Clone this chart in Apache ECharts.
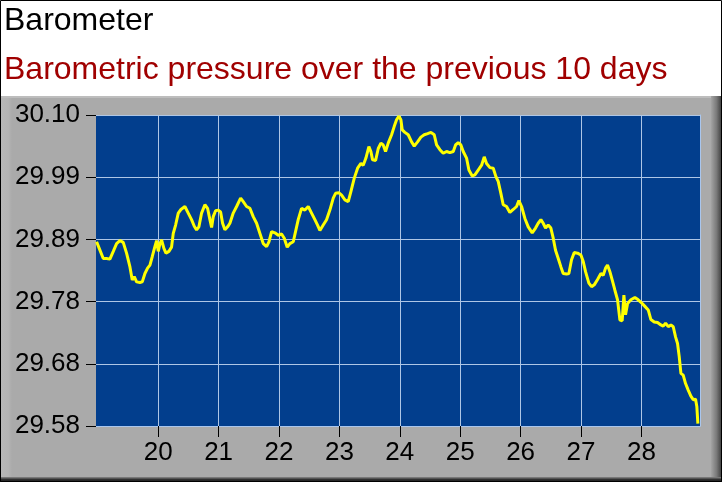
<!DOCTYPE html>
<html>
<head>
<meta charset="utf-8">
<script src="https://cdn.jsdelivr.net/npm/echarts@6/dist/echarts.min.js"></script>
<style>
html,body{margin:0;padding:0;background:#fff;}
#chart{width:722px;height:482px;}
</style>
</head>
<body>
<div id="chart"></div>
<script>
// ---- data ----
const titleText = 'Barometer';
const subtitleText = 'Barometric pressure over the previous 10 days';

const xTickValues = [20, 21, 22, 23, 24, 25, 26, 27, 28];
const yTickValues = [29.58, 29.684, 29.788, 29.892, 29.996, 30.10];
const yTickLabels = ['29.58', '29.68', '29.78', '29.89', '29.99', '30.10'];

const days = [
  18.980, 19.035, 19.090, 19.145, 19.200, 19.256, 19.311, 19.366, 19.421, 19.476,
  19.532, 19.570, 19.603, 19.642, 19.697, 19.736, 19.780, 19.824, 19.863, 19.901,
  19.945, 19.973, 20.001, 20.028, 20.056, 20.094, 20.128, 20.177, 20.221, 20.249,
  20.288, 20.332, 20.376, 20.442, 20.497, 20.552, 20.597, 20.635, 20.674, 20.718,
  20.773, 20.817, 20.856, 20.884, 20.911, 20.950, 20.994, 21.033, 21.066, 21.104,
  21.149, 21.187, 21.242, 21.298, 21.364, 21.408, 21.463, 21.518, 21.573, 21.629,
  21.684, 21.739, 21.794, 21.833, 21.877, 21.932, 21.987, 22.043, 22.087, 22.136,
  22.180, 22.236, 22.318, 22.373, 22.429, 22.484, 22.539, 22.594, 22.638, 22.677,
  22.732, 22.787, 22.842, 22.898, 22.936, 22.992, 23.036, 23.091, 23.146, 23.190,
  23.245, 23.301, 23.356, 23.394, 23.439, 23.488, 23.521, 23.549, 23.599, 23.643,
  23.687, 23.725, 23.764, 23.808, 23.864, 23.908, 23.946, 23.985, 24.018, 24.040,
  24.084, 24.139, 24.195, 24.239, 24.294, 24.349, 24.404, 24.460, 24.515, 24.570,
  24.609, 24.664, 24.719, 24.774, 24.829, 24.885, 24.923, 24.967, 25.011, 25.050,
  25.105, 25.144, 25.199, 25.243, 25.298, 25.354, 25.398, 25.436, 25.492, 25.547,
  25.591, 25.629, 25.673, 25.712, 25.767, 25.822, 25.878, 25.933, 25.971, 26.016,
  26.071, 26.126, 26.192, 26.247, 26.291, 26.336, 26.374, 26.413, 26.457, 26.501,
  26.540, 26.578, 26.623, 26.667, 26.705, 26.761, 26.799, 26.843, 26.888, 26.943,
  26.998, 27.037, 27.075, 27.130, 27.175, 27.219, 27.274, 27.329, 27.368, 27.406,
  27.439, 27.478, 27.517, 27.561, 27.605, 27.644, 27.682, 27.710, 27.737, 27.771,
  27.826, 27.892, 27.947, 28.002, 28.058, 28.113, 28.157, 28.212, 28.267, 28.322,
  28.361, 28.400, 28.444, 28.488, 28.527, 28.565, 28.598, 28.626, 28.654, 28.692,
  28.731, 28.775, 28.819, 28.858, 28.896, 28.918, 28.935
];

const pressure = [
  29.888, 29.874, 29.860, 29.860, 29.859, 29.872, 29.885, 29.890, 29.887, 29.869,
  29.846, 29.824, 29.830, 29.821, 29.820, 29.821, 29.835, 29.844, 29.849, 29.863,
  29.880, 29.890, 29.872, 29.885, 29.891, 29.877, 29.869, 29.872, 29.879, 29.902,
  29.916, 29.936, 29.942, 29.947, 29.936, 29.925, 29.914, 29.908, 29.913, 29.936,
  29.950, 29.944, 29.925, 29.912, 29.930, 29.940, 29.941, 29.938, 29.919, 29.908,
  29.913, 29.919, 29.936, 29.947, 29.961, 29.955, 29.947, 29.944, 29.930, 29.919,
  29.902, 29.885, 29.880, 29.888, 29.905, 29.903, 29.899, 29.901, 29.894, 29.879,
  29.885, 29.888, 29.925, 29.944, 29.941, 29.947, 29.936, 29.925, 29.916, 29.907,
  29.916, 29.925, 29.941, 29.961, 29.969, 29.970, 29.966, 29.958, 29.955, 29.972,
  29.994, 30.011, 30.019, 30.016, 30.028, 30.047, 30.039, 30.025, 30.024, 30.044,
  30.053, 30.050, 30.039, 30.053, 30.067, 30.081, 30.092, 30.098, 30.092, 30.075,
  30.071, 30.067, 30.055, 30.048, 30.055, 30.063, 30.067, 30.069, 30.071, 30.067,
  30.050, 30.042, 30.036, 30.039, 30.037, 30.039, 30.050, 30.054, 30.050, 30.039,
  30.028, 30.008, 29.998, 30.000, 30.008, 30.016, 30.030, 30.019, 30.012, 30.011,
  29.997, 29.989, 29.969, 29.950, 29.947, 29.937, 29.942, 29.947, 29.957, 29.947,
  29.927, 29.913, 29.903, 29.911, 29.919, 29.925, 29.919, 29.911, 29.916, 29.911,
  29.894, 29.874, 29.860, 29.846, 29.835, 29.834, 29.835, 29.858, 29.870, 29.869,
  29.866, 29.855, 29.838, 29.819, 29.813, 29.816, 29.825, 29.835, 29.832, 29.844,
  29.849, 29.838, 29.824, 29.807, 29.791, 29.757, 29.756, 29.799, 29.766, 29.785,
  29.791, 29.795, 29.791, 29.786, 29.780, 29.774, 29.758, 29.754, 29.753, 29.749,
  29.747, 29.752, 29.746, 29.749, 29.746, 29.729, 29.718, 29.696, 29.668, 29.665,
  29.651, 29.640, 29.630, 29.624, 29.625, 29.612, 29.584
];

const seriesData = days.map((d, i) => [d, pressure[i]]);

const chart = echarts.init(document.getElementById('chart'), null, {renderer: 'canvas'});

const W = 722, H = 482, PANEL_TOP = 96;

const option = {
  animation: false,
  backgroundColor: '#ffffff',
  graphic: [
    {type: 'rect', z: -20, silent: true,
     shape: {x: 0, y: PANEL_TOP, width: W, height: H - PANEL_TOP},
     style: {fill: '#aaaaaa'}},
    {type: 'rect', z: -19, silent: true,
     shape: {x: 0, y: PANEL_TOP, width: 12, height: H - PANEL_TOP},
     style: {fill: new echarts.graphic.LinearGradient(0, 0, 1, 0, [
       {offset: 0, color: '#b8b8b8'}, {offset: 0.7, color: '#b4b4b4'}, {offset: 1, color: '#aaaaaa'}])}},
    {type: 'rect', z: -19, silent: true,
     shape: {x: 0, y: PANEL_TOP, width: W, height: 2},
     style: {fill: '#bdbdbd'}},
    {type: 'rect', z: -18, silent: true,
     shape: {x: W - 11, y: PANEL_TOP, width: 11, height: H - PANEL_TOP},
     style: {fill: new echarts.graphic.LinearGradient(0, 0, 1, 0, [
       {offset: 0, color: '#a4a4a4'}, {offset: 0.5, color: '#7a7a7a'}, {offset: 1, color: '#3a3a3a'}])}},
    {type: 'rect', z: -18, silent: true,
     shape: {x: 0, y: H - 5, width: W, height: 5},
     style: {fill: new echarts.graphic.LinearGradient(0, 0, 0, 1, [
       {offset: 0, color: '#8a8a8a'}, {offset: 0.5, color: '#303030'}, {offset: 1, color: '#1a1a1a'}])}},
    {type: 'rect', z: -17, silent: true,
     shape: {x: 0.5, y: 0.5, width: W - 1, height: H - 1},
     style: {fill: 'none', stroke: '#000', lineWidth: 1}},
    {type: 'text', z: 10, silent: true, x: 4, y: 21,
     style: {text: titleText, font: '32px "Liberation Sans", Arial, sans-serif',
             fill: '#000000', verticalAlign: 'middle', align: 'left'}},
    {type: 'text', z: 10, silent: true, x: 4, y: 70,
     style: {text: subtitleText, font: '32px "Liberation Sans", Arial, sans-serif',
             fill: '#a00000', verticalAlign: 'middle', align: 'left'}}
  ],
  grid: {
    left: 96, top: 115, right: 22, bottom: 56,
    show: true, backgroundColor: '#023e8d', borderWidth: 0, containLabel: false
  },
  xAxis: {
    type: 'value', min: 18.97, max: 28.97,
    axisLine: {show: true, lineStyle: {color: '#a9c6ee', width: 1}},
    axisTick: {show: true, customValues: xTickValues, length: 11, lineStyle: {color: '#000', width: 1}},
    axisLabel: {show: true, customValues: xTickValues, margin: 14,
      fontFamily: '"Liberation Sans", Arial, sans-serif', fontSize: 26, color: '#000',
      formatter: v => String(Math.round(v))},
    splitLine: {show: true, lineStyle: {color: '#aec6e6', width: 1}}
  },
  yAxis: [{
    type: 'value', min: 29.58, max: 30.10, position: 'left',
    axisLine: {show: false},
    axisTick: {show: true, customValues: yTickValues, length: 10, lineStyle: {color: '#000', width: 1}},
    axisLabel: {show: true, customValues: yTickValues, margin: 16,
      fontFamily: '"Liberation Sans", Arial, sans-serif', fontSize: 26, color: '#000',
      formatter: v => {
        let best = 0;
        for (let i = 1; i < yTickValues.length; i++) {
          if (Math.abs(yTickValues[i] - v) < Math.abs(yTickValues[best] - v)) best = i;
        }
        return yTickLabels[best];
      }},
    splitLine: {show: true, lineStyle: {color: '#aec6e6', width: 1}}
  }, {
    type: 'value', min: 29.58, max: 30.10, position: 'right',
    axisLine: {show: true, lineStyle: {color: '#a9c6ee', width: 1}},
    axisTick: {show: false}, axisLabel: {show: false}, splitLine: {show: false}
  }],
  series: [{
    type: 'line', yAxisIndex: 0,
    data: seriesData,
    showSymbol: false, symbol: 'none',
    lineStyle: {color: '#ffff00', width: 3},
    clip: true, z: 5
  }]
};

chart.setOption(option);
</script>
</body>
</html>
